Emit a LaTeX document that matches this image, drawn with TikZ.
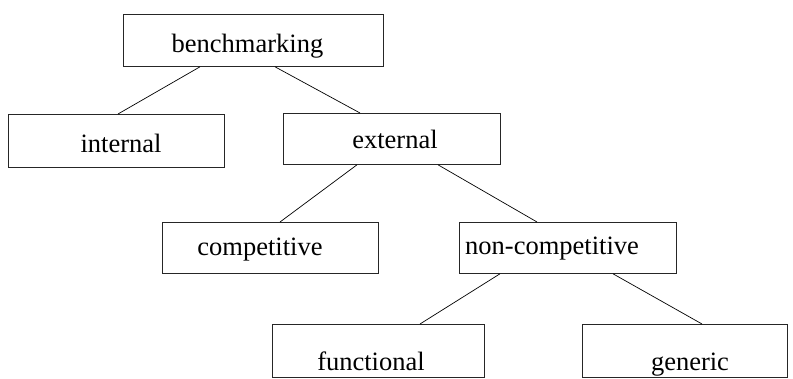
\documentclass[tikz,border=0pt]{standalone}
\usepackage{fontspec}
\setmainfont{Liberation Serif}
\begin{document}
\begin{tikzpicture}[x=1pt,y=-1pt,
  box/.style={draw=black!85,line width=0.8pt,inner sep=0pt,anchor=north west,minimum height=52pt},
  lbl/.style={inner sep=0pt,anchor=base,font=\fontsize{26.5}{32}\selectfont},
  link/.style={draw=black,line width=0.7pt}]
\useasboundingbox (0,0) rectangle (793,379);
\node[box,minimum width=260pt] (bench) at (123,14) {};
\node[box,minimum width=216pt,minimum height=53pt] (internal) at (8,114) {};
\node[box,minimum width=217pt,minimum height=51pt] (external) at (283,113) {};
\node[box,minimum width=216pt,minimum height=51pt] (comp) at (162,222) {};
\node[box,minimum width=217pt,minimum height=51pt] (noncomp) at (459,222) {};
\node[box,minimum width=212pt,minimum height=53pt] (func) at (272,324) {};
\node[box,minimum width=205pt,minimum height=53pt] (gen) at (582,324) {};
\node[lbl] (tbench) at (247.5,53) {benchmarking};
\node[lbl] (tinternal) at (121,153) {internal};
\node[lbl] (texternal) at (395,149) {external};
\node[lbl] (tcomp) at (260,256) {competitive};
\node[lbl,anchor=base west] (tnoncomp) at (465,255) {non-competitive};
\node[lbl] (tfunc) at (371,371) {functional};
\node[lbl] (tgen) at (690,371) {generic};
\draw[link] ([xshift=77pt]bench.south west) -- ([xshift=110pt]internal.north west);
\draw[link] ([xshift=152pt]bench.south west) -- ([xshift=77pt]external.north west);
\draw[link] ([xshift=74pt]external.south west) -- ([xshift=118pt]comp.north west);
\draw[link] ([xshift=155pt]external.south west) -- ([xshift=78pt]noncomp.north west);
\draw[link] ([xshift=41pt]noncomp.south west) -- ([xshift=148pt]func.north west);
\draw[link] ([xshift=154pt]noncomp.south west) -- ([xshift=120pt]gen.north west);
\end{tikzpicture}
\end{document}
